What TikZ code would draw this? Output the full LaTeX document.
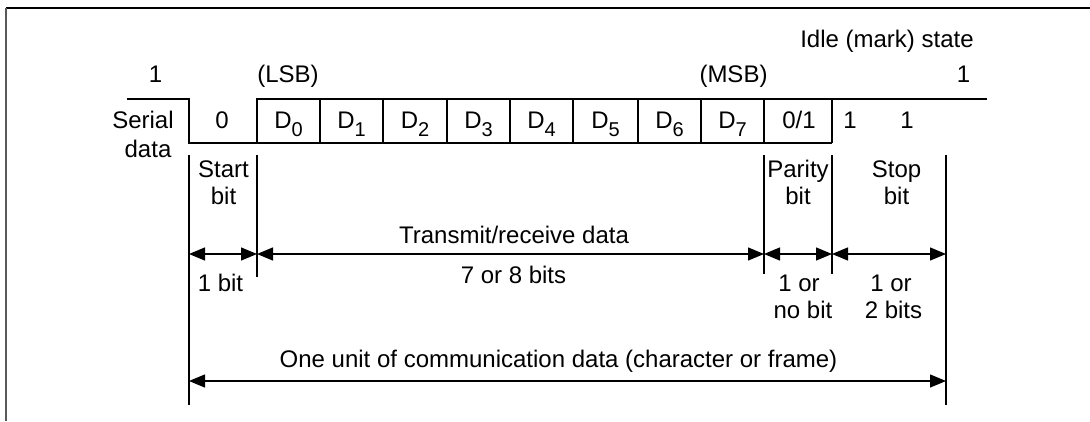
\documentclass[tikz,border=0pt]{standalone}
\usepackage{fontspec}
\setmainfont{Liberation Sans}
\usetikzlibrary{arrows.meta}
\newcommand\Dbit[1]{D\raisebox{-8pt}{\fontsize{20}{21}\selectfont #1}}
\begin{document}
\begin{tikzpicture}[x=1pt,y=-1pt,
  txt/.style={font=\fontsize{24}{28}\selectfont, inner sep=0pt, anchor=base},
  ln/.style={line width=1.3pt},
  dimarrow/.style={line width=1.3pt, {Triangle[length=16pt,width=13pt]}-{Triangle[length=16pt,width=13pt]}},
]
\useasboundingbox (0,0) rectangle (1090,421);
% frame
\coordinate (fr1) at (1090,8);
\coordinate (fr2) at (6,8);
\coordinate (fr3) at (6,421);
\draw[line width=1.5pt] (fr1) -- (fr2);
\draw[line width=1.5pt, black!65] (fr2) -- (fr3);
% signal grid
\foreach \n/\x in {0/257,1/320,2/383,3/447,4/510,5/573,6/638,7/701,8/764,9/832}{
  \coordinate (T\n) at (\x,99);
  \coordinate (B\n) at (\x,143);
}
\coordinate (s0) at (127,99);
\coordinate (s1) at (189,99);
\coordinate (s2) at (189,143);
\coordinate (idle) at (987,99);
\draw[ln] (s0) -- (s1) -- (s2) -- (B0) -- (T0) -- (idle);
\draw[ln] (B0) -- (B9);
\foreach \n in {1,...,9}{ \draw[ln] (T\n) -- (B\n); }
% top labels
\node[txt] (one1) at (155.5,82) {1};
\node[txt] (lsb) at (288,82) {(LSB)};
\node[txt] (msb) at (733.5,82) {(MSB)};
\node[txt] (idlelbl) at (887,47) {Idle (mark) state};
\node[txt] (one2) at (963.5,82) {1};
\node[txt] (serial) at (143,128) {Serial};
\node[txt] (data) at (148,157) {data};
% box labels
\node[txt] (b0) at (222,128) {0};
\node[txt] (d0) at (288.5,128) {\Dbit{0}};
\node[txt] (d1) at (351.5,128) {\Dbit{1}};
\node[txt] (d2) at (415,128) {\Dbit{2}};
\node[txt] (d3) at (478.5,128) {\Dbit{3}};
\node[txt] (d4) at (541.5,128) {\Dbit{4}};
\node[txt] (d5) at (605.5,128) {\Dbit{5}};
\node[txt] (d6) at (669.5,128) {\Dbit{6}};
\node[txt] (d7) at (732.5,128) {\Dbit{7}};
\node[txt] (par) at (799,128) {0/1};
\node[txt] (st1) at (850,128) {1};
\node[txt] (st2) at (907,128) {1};
% field labels
\node[txt] (start1) at (223.5,177) {Start};
\node[txt] (start2) at (223.5,204) {bit};
\node[txt] (parity1) at (798,177) {Parity};
\node[txt] (parity2) at (798,204) {bit};
\node[txt] (stop1) at (896.5,177) {Stop};
\node[txt] (stop2) at (896.5,204) {bit};
% extension lines
\coordinate (e1t) at (189,155); \coordinate (e1b) at (189,405);
\coordinate (e2t) at (257,155); \coordinate (e2b) at (257,277);
\coordinate (e3t) at (764,155); \coordinate (e3b) at (764,274);
\coordinate (e4t) at (832,155); \coordinate (e4b) at (832,274);
\coordinate (e5t) at (946,155); \coordinate (e5b) at (946,405);
\foreach \n in {1,...,5}{ \draw[ln] (e\n t) -- (e\n b); }
% dimension arrows
\coordinate (a1) at (189,254);
\coordinate (a2) at (257,254);
\coordinate (a3) at (764,254);
\coordinate (a4) at (832,254);
\coordinate (a5) at (946,254);
\draw[dimarrow] (a1) -- (a2);
\draw[dimarrow] (a2) -- (a3);
\draw[dimarrow] (a3) -- (a4);
\draw[dimarrow] (a4) -- (a5);
\coordinate (u1) at (189,381);
\coordinate (u2) at (946,381);
\draw[dimarrow] (u1) -- (u2);
% dimension labels
\node[txt] (trx) at (514,243) {Transmit/receive data};
\node[txt] (bits78) at (513.5,283) {7 or 8 bits};
\node[txt] (bit1) at (220.5,291) {1 bit};
\node[txt] (pn1) at (799,291) {1 or};
\node[txt] (pn2) at (803,318) {no bit};
\node[txt] (sn1) at (891,291) {1 or};
\node[txt] (sn2) at (893.5,318) {2 bits};
\node[txt] (unit) at (558.5,367) {One unit of communication data (character or frame)};
\end{tikzpicture}
\end{document}
